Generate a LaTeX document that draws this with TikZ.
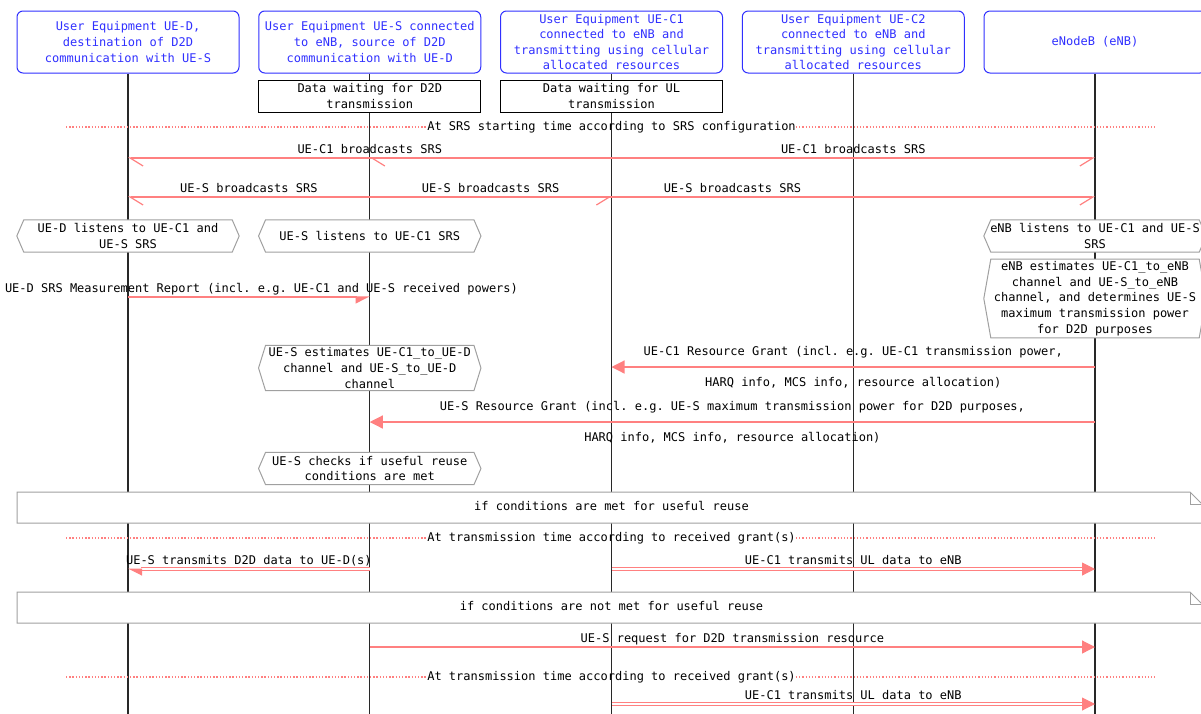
\documentclass[tikz,border=0pt]{standalone}
\usepackage{fontspec}
\setmonofont{DejaVu Sans Mono}
\usetikzlibrary{arrows.meta}

\definecolor{hdrblue}{RGB}{48,48,255}
\definecolor{msgred}{RGB}{255,128,128}
\definecolor{boxgrey}{RGB}{160,160,160}
\definecolor{lifegrey}{RGB}{40,40,40}

\tikzset{
  mscfont/.style={font=\ttfamily\fontsize{12}{15.6}\selectfont},
  entity/.style={mscfont, draw=hdrblue, text=hdrblue, fill=white, line width=1pt,
    rounded corners=6pt, align=center, minimum width=222pt, minimum height=62pt, inner sep=0pt},
  waitbox/.style={mscfont, draw=black, fill=white, line width=1pt, align=center,
    minimum width=222pt, minimum height=32pt, inner sep=0pt},
  lifeline/.style={draw=lifegrey, line width=1.1pt},
  msg/.style={draw=msgred, line width=1.2pt, -{Triangle[length=13pt,width=13pt,#1]}},
  msg/.default={},
  dblmsg/.style={msg=#1, line width=1pt, double=white, double distance=1.3pt},
  dblmsg/.default={},
  bcast/.style={draw=msgred, line width=1.2pt, -{Straight Barb[length=13pt,width=16pt,#1]}},
  lbl/.style={mscfont, inner sep=0pt, text height=8.5pt, text depth=2.5pt},
  divider/.style={draw=msgred, line width=1.3pt, dash pattern=on 1.3pt off 1.9pt},
  notebox/.style={draw=boxgrey, fill=white, line width=1pt},
  evbox/.style={mscfont, align=center, minimum width=222pt, minimum height=32pt,
    inner xsep=0pt, inner ysep=2.2pt,
    append after command={\pgfextra{\filldraw[fill=white, draw=boxgrey, line width=1pt]
      (\tikzlastnode.west) -- ([xshift=7pt]\tikzlastnode.north west)
      -- ([xshift=-7pt]\tikzlastnode.north east) -- (\tikzlastnode.east)
      -- ([xshift=-7pt]\tikzlastnode.south east)
      -- ([xshift=7pt]\tikzlastnode.south west) -- cycle;}}},
}

\begin{document}
\begin{tikzpicture}[x=1pt, y=-1pt]
  \useasboundingbox (0,0) rectangle (1201,713);

  % entities
  \node[entity] (ued) at (128,42) {User Equipment UE-D,\\destination of D2D\\communication with UE-S};
  \node[entity] (ues) at (369.75,42) {User Equipment UE-S connected\\to eNB, source of D2D\\communication with UE-D};
  \node[entity] (uec1) at (611.5,42) {User Equipment UE-C1\\connected to eNB and\\transmitting using cellular\\allocated resources};
  \node[entity] (uec2) at (853.25,42) {User Equipment UE-C2\\connected to eNB and\\transmitting using cellular\\allocated resources};
  \node[entity] (enb) at (1095,42) {eNodeB (eNB)};

  \coordinate (bottom) at (0,720);
  \foreach \e in {ued,ues,uec1,uec2,enb}
    \draw[lifeline] (\e.south) -- (\e |- bottom);

  \node[waitbox] (waitd2d) at (369.75,96) {Data waiting for D2D\\transmission};
  \node[waitbox] (waitul) at (611.5,96) {Data waiting for UL\\transmission};

  % rows
  \coordinate (srsc1) at (0,158);
  \coordinate (srss) at (0,197);
  \coordinate (report) at (0,297);
  \coordinate (grantc1) at (0,367);
  \coordinate (grants) at (0,422);
  \coordinate (txmet) at (0,569);
  \coordinate (request) at (0,647);
  \coordinate (txnot) at (0,704);

  \node[lbl] (srsstart) at (611.5,127) {At SRS starting time according to SRS configuration};
  \coordinate (srsl) at (66,127);
  \coordinate (srsr) at (1155,127);
  \draw[divider] (srsl) -- (srsstart.west);
  \draw[divider] (srsstart.east) -- (srsr);

  % SRS broadcasts
  \draw[bcast=left] (uec1 |- srsc1) -- node[lbl, yshift=7.5pt] {UE-C1 broadcasts SRS} (ued |- srsc1);
  \draw[bcast=left] (uec1 |- srsc1) -- (ues |- srsc1);
  \draw[bcast=right] (uec1 |- srsc1) -- node[lbl, yshift=7.5pt] {UE-C1 broadcasts SRS} (enb |- srsc1);

  \draw[bcast=left] (ues |- srss) -- node[lbl, yshift=7.5pt] {UE-S broadcasts SRS} (ued |- srss);
  \draw[bcast=right] (ues |- srss) -- node[lbl, yshift=7.5pt] {UE-S broadcasts SRS} (uec1 |- srss);
  \draw[bcast=right] (ues |- srss) -- node[lbl, yshift=7.5pt] {UE-S broadcasts SRS} (enb |- srss);

  \node[evbox] (listd) at (128,236) {UE-D listens to UE-C1 and\\UE-S SRS};
  \node[evbox] (lists) at (369.75,236) {UE-S listens to UE-C1 SRS};
  \node[evbox] (listn) at (1095,236) {eNB listens to UE-C1 and UE-S\\SRS};

  \draw[msg=right] (ued |- report) -- node[lbl, xshift=12.6pt, yshift=7.5pt] {UE-D SRS Measurement Report (incl. e.g. UE-C1 and UE-S received powers)} (ues |- report);

  \node[evbox] (estn) at (1095,298.5) {eNB estimates UE-C1\_to\_eNB\\channel and UE-S\_to\_eNB\\channel, and determines UE-S\\maximum transmission power\\for D2D purposes};

  % grants
  \draw[msg] (enb |- grantc1) -- node[lbl, yshift=14.5pt] {UE-C1 Resource Grant (incl. e.g. UE-C1 transmission power,}
    node[lbl, yshift=-16.5pt] {HARQ info, MCS info, resource allocation)} (uec1 |- grantc1);
  \node[evbox] (ests) at (369.75,368) {UE-S estimates UE-C1\_to\_UE-D\\channel and UE-S\_to\_UE-D\\channel};
  \draw[msg] (enb |- grants) -- node[lbl, yshift=14.5pt] {UE-S Resource Grant (incl. e.g. UE-S maximum transmission power for D2D purposes,}
    node[lbl, yshift=-16.5pt] {HARQ info, MCS info, resource allocation)} (ues |- grants);
  \node[evbox] (checks) at (369.75,468.5) {UE-S checks if useful reuse\\conditions are met};

  % reuse possible
  \filldraw[notebox] (17,492) -- (1190,492) -- (1202,504) -- (1202,523) -- (17,523) -- cycle;
  \draw[notebox, fill=none] (1190,492) |- (1202,504);
  \node[lbl] (met) at (611.5,507.5) {if conditions are met for useful reuse};

  \node[lbl] (txtime1) at (611.5,538) {At transmission time according to received grant(s)};
  \coordinate (tx1l) at (66,538);
  \coordinate (tx1r) at (1155,538);
  \draw[divider] (tx1l) -- (txtime1.west);
  \draw[divider] (txtime1.east) -- (tx1r);

  \draw[dblmsg=left] (ues |- txmet) -- node[lbl, yshift=7.5pt] {UE-S transmits D2D data to UE-D(s)} (ued |- txmet);
  \draw[dblmsg] (uec1 |- txmet) -- node[lbl, yshift=7.5pt] {UE-C1 transmits UL data to eNB} (enb |- txmet);

  % reuse not possible
  \filldraw[notebox] (17,592) -- (1190,592) -- (1202,604) -- (1202,623) -- (17,623) -- cycle;
  \draw[notebox, fill=none] (1190,592) |- (1202,604);
  \node[lbl] (notmet) at (611.5,607.5) {if conditions are not met for useful reuse};

  \draw[msg] (ues |- request) -- node[lbl, yshift=7.5pt] {UE-S request for D2D transmission resource} (enb |- request);

  \node[lbl] (txtime2) at (611.5,677) {At transmission time according to received grant(s)};
  \coordinate (tx2l) at (66,677);
  \coordinate (tx2r) at (1155,677);
  \draw[divider] (tx2l) -- (txtime2.west);
  \draw[divider] (txtime2.east) -- (tx2r);

  \draw[dblmsg] (uec1 |- txnot) -- node[lbl, yshift=7.5pt] {UE-C1 transmits UL data to eNB} (enb |- txnot);
\end{tikzpicture}
\end{document}
